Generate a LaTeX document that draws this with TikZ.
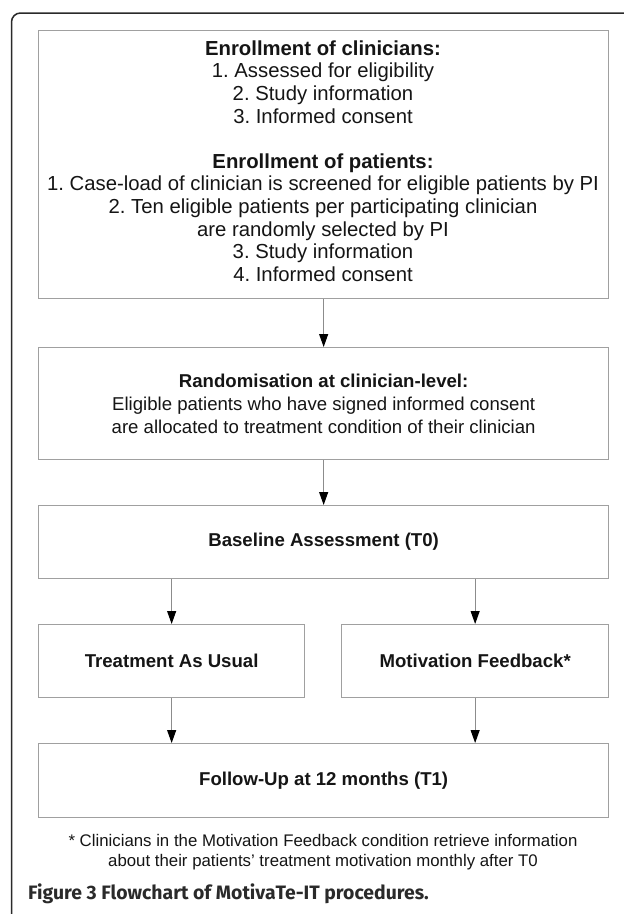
\documentclass[tikz,border=0pt]{standalone}
\usepackage{fontspec}
\setmainfont{Liberation Sans}
\newfontfamily\capfont{Fira Sans}
\usetikzlibrary{arrows.meta}
\definecolor{boxgray}{HTML}{A0A0A0}
\definecolor{linegray}{HTML}{8C8C8C}
\definecolor{txt}{HTML}{151515}
\definecolor{frame}{HTML}{2A2A2A}
\tikzset{
  flowbox/.style={draw=boxgray, line width=1.3pt, rectangle, inner sep=0pt, anchor=north west,
    align=center, text=txt, font=\fontsize{18.6}{23}\selectfont},
  flowtext/.style={align=center, text=txt, inner sep=0pt},
  flowarrow/.style={draw=linegray, line width=1.1pt, -{Triangle[length=13pt,width=9pt,fill=black,color=black]}},
}
\begin{document}
\frenchspacing
\begin{tikzpicture}[x=1pt,y=-1pt]
\useasboundingbox (0,0) rectangle (624,914);
\fill[white] (0,0) rectangle (624,914);
% outer frame
\draw[frame, line width=1.5pt, rounded corners=9pt] (11.5,930) -- (11.5,13) -- (640,13);
% boxes
\node[flowbox, minimum width=570pt, minimum height=268pt] (b1) at (38,30) {};
\node[flowtext, font=\fontsize{20.3}{22.6}\selectfont] (b1text) at (323,161)
  {\textbf{Enrollment of clinicians:}\\
   1. Assessed for eligibility\\
   2. Study information\\
   3. Informed consent\\[22.6pt]
   \textbf{Enrollment of patients:}\\
   1. Case-load of clinician is screened for eligible patients by PI\\
   2. Ten eligible patients per participating clinician\\
   are randomly selected by PI\\
   3. Study information\\
   4. Informed consent};
\node[flowbox, minimum width=570pt, minimum height=112pt] (b2) at (38,347)
  {\textbf{Randomisation at clinician-level:}\\
   Eligible patients who have signed informed consent\\
   are allocated to treatment condition of their clinician};
\node[flowbox, minimum width=570pt, minimum height=73pt] (b3) at (38,505)
  {\textbf{Baseline Assessment (T0)}};
\node[flowbox, minimum width=266pt, minimum height=73pt] (b4) at (38,624)
  {\textbf{Treatment As Usual}};
\node[flowbox, minimum width=267pt, minimum height=73pt] (b5) at (341,624)
  {\textbf{Motivation Feedback*}};
\node[flowbox, minimum width=570pt, minimum height=74pt] (b6) at (38,743)
  {\textbf{Follow-Up at 12 months (T1)}};
% arrows
\draw[flowarrow] (b1.south) -- (b2.north);
\draw[flowarrow] (b2.south) -- (b3.north);
\draw[flowarrow] (b3.south -| b4.north) -- (b4.north);
\draw[flowarrow] (b3.south -| b5.north) -- (b5.north);
\draw[flowarrow] (b4.south) -- (b4.south |- b6.north);
\draw[flowarrow] (b5.south) -- (b5.south |- b6.north);
% footnote
\node[flowtext, font=\fontsize{16.8}{20}\selectfont] (fn) at (323,852)
  {* Clinicians in the Motivation Feedback condition retrieve information\\
   about their patients’ treatment motivation monthly after T0};
% caption
\node[anchor=base west, inner sep=0pt, text=frame, font=\capfont\bfseries\fontsize{19.4}{22}\selectfont] (cap) at (28,899)
  {Figure 3 Flowchart of MotivaTe-IT procedures.};
\end{tikzpicture}
\end{document}
